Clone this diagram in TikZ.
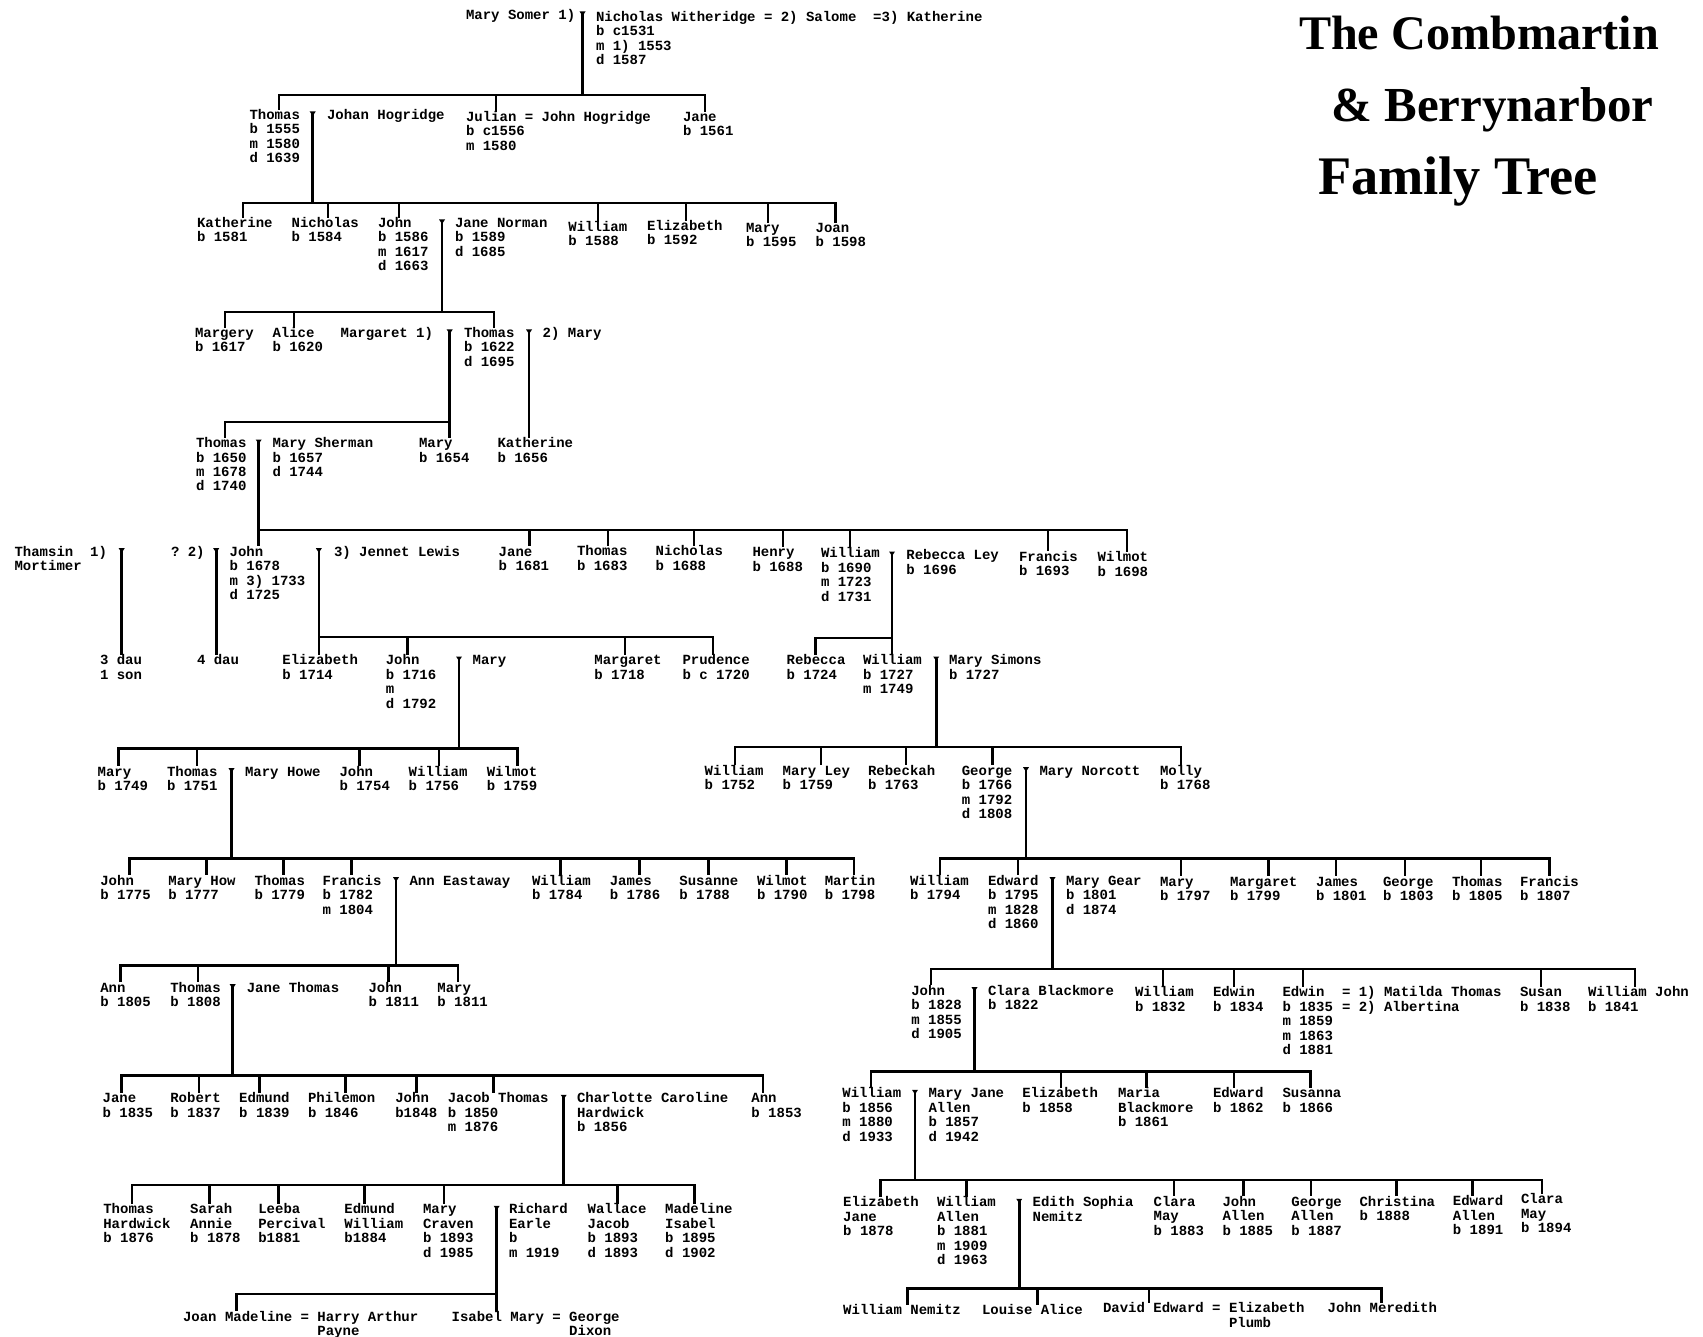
\documentclass[tikz,border=0pt]{standalone}
\usepackage{fontspec}
\usepackage{graphicx}
\setmonofont{Liberation Mono}
\newfontfamily\titlefont{Liberation Serif}
\newcommand\pfont{\ttfamily\bfseries\fontsize{14}{14.5}\selectfont}
\newcommand\lns[1]{\begin{tabular}[t]{@{}l@{}}#1\end{tabular}}
\tikzset{
  ln/.style={line width=2.6pt, line cap=rect},
  pers/.style={anchor=base west, inner sep=0pt, outer sep=0pt, font=\pfont},
  ttl/.style={anchor=base west, inner sep=0pt, outer sep=0pt, font=\titlefont\bfseries\fontsize{40}{40}\selectfont},
}
\newcommand\pp[4]{\node[pers] (#1) at (#2,#3+4.5) {\lns{#4}};}
\newcommand\mk[3]{\coordinate (#1) at (#2,#3); \fill (#2-3,#3-3.5) -- (#2+3,#3-3.5) -- (#2,#3+1) -- cycle;}
\newcommand\fbar[4]{\coordinate (#1L) at (#2,#4); \coordinate (#1R) at (#3,#4); \draw[ln] (#1L) -- (#1R);}
\newcommand\down[2]{\draw[ln] (#1) -- (#1 |- #2);}
\newcommand\tochild[2]{\draw[ln,shorten >=1pt] (#1) -- (#1 |- #2.north);}
\newcommand\drp[3]{\coordinate (d#1) at (#2,#3); \draw[ln,shorten >=1pt] (d#1) -- (d#1 |- #1.north);}
\begin{document}
\begin{tikzpicture}[x=1pt,y=-1pt]
\useasboundingbox (0,0) rectangle (1703,1337);
\fill[white] (0,0) rectangle (1703,1337);
% ---------- title
\node[ttl] (t1) at (1299,50) {\resizebox{360pt}{!}{The Combmartin}};
\node[ttl] (t2) at (1331.5,122) {\resizebox{322pt}{!}{\& Berrynarbor}};
\node[ttl] (t3) at (1318,195) {\resizebox{280pt}{!}{Family Tree}};
% ---------- gen 1
\pp{marySomer}{466}{15}{Mary Somer 1)}
\pp{nicholas1}{596}{16.7}{Nicholas Witheridge = 2) Salome~ =3) Katherine\\b c1531\\m 1) 1553\\d 1587}
% ---------- gen 2
\pp{thomas2}{249.5}{115}{Thomas\\b 1555\\m 1580\\d 1639}
\pp{johan}{327}{115}{Johan Hogridge}
\pp{julian}{466}{117}{Julian = John Hogridge\\b c1556\\m 1580}
\pp{jane2}{683}{117}{Jane\\b 1561}
% ---------- gen 3
\pp{katherine3}{197}{223}{Katherine\\b 1581}
\pp{nicholas3}{291.6}{223}{Nicholas\\b 1584}
\pp{john3}{378}{223}{John\\b 1586\\m 1617\\d 1663}
\pp{janeNorman}{455}{223}{Jane Norman\\b 1589\\d 1685}
\pp{william3}{568.4}{227}{William\\b 1588}
\pp{elizabeth3}{647}{226}{Elizabeth\\b 1592}
\pp{mary3}{746}{228}{Mary\\b 1595}
\pp{joan3}{815.6}{228}{Joan\\b 1598}
% ---------- gen 4
\pp{margery}{195}{333}{Margery\\b 1617}
\pp{alice}{272.5}{333}{Alice\\b 1620}
\pp{margaret4}{340.6}{333}{Margaret 1)}
\pp{thomas4}{464}{333}{Thomas\\b 1622\\d 1695}
\pp{mary4}{542.7}{333}{2) Mary}
% ---------- gen 5
\pp{thomas5}{196}{443}{Thomas\\b 1650\\m 1678\\d 1740}
\pp{marySherman}{272.5}{443}{Mary Sherman\\b 1657\\d 1744}
\pp{mary5}{419}{443}{Mary\\b 1654}
\pp{katherine5}{497.5}{443}{Katherine\\b 1656}
% ---------- gen 6
\pp{thamsin}{14.5}{551.7}{Thamsin~~1)\\Mortimer}
\pp{q2}{171}{551.7}{? 2)}
\pp{john6}{229.6}{551.7}{John\\b 1678\\m 3) 1733\\d 1725}
\pp{jennet}{334}{551.7}{3) Jennet Lewis}
\pp{jane6}{498.7}{551.7}{Jane\\b 1681}
\pp{thomas6}{577}{551}{Thomas\\b 1683}
\pp{nicholas6}{655.7}{551}{Nicholas\\b 1688}
\pp{henry6}{752.5}{552}{Henry\\b 1688}
\pp{william6}{821}{553}{William\\b 1690\\m 1723\\d 1731}
\pp{rebeccaLey}{906.4}{555}{Rebecca Ley\\b 1696}
\pp{francis6}{1019}{556.7}{Francis\\b 1693}
\pp{wilmot6}{1097.7}{557}{Wilmot\\b 1698}
% ---------- gen 7
\pp{dau3}{100}{660}{3 dau\\1 son}
\pp{dau4}{197}{660}{4 dau}
\pp{elizabeth7}{282.4}{660}{Elizabeth\\b 1714}
\pp{john7}{385.8}{660}{John\\b 1716\\m\\d 1792}
\pp{mary7}{472.6}{660}{Mary}
\pp{margaret7}{594.4}{660}{Margaret\\b 1718}
\pp{prudence}{682.5}{660}{Prudence\\b c 1720}
\pp{rebecca7}{786.6}{660}{Rebecca\\b 1724}
\pp{william7}{863}{660}{William\\b 1727\\m 1749}
\pp{marySimons}{949}{660}{Mary Simons\\b 1727}
% ---------- gen 8
\pp{mary8}{97.6}{771.7}{Mary\\b 1749}
\pp{thomas8}{167}{771.7}{Thomas\\b 1751}
\pp{maryHowe}{245}{771.7}{Mary Howe}
\pp{john8}{339.5}{771.7}{John\\b 1754}
\pp{william8}{408.7}{771.7}{William\\b 1756}
\pp{wilmot8}{486.8}{771.7}{Wilmot\\b 1759}
\pp{william8b}{704.7}{770.7}{William\\b 1752}
\pp{maryLey}{782.7}{770.7}{Mary Ley\\b 1759}
\pp{rebeckah}{868}{770.7}{Rebeckah\\b 1763}
\pp{george8}{961.8}{770.7}{George\\b 1766\\m 1792\\d 1808}
\pp{maryNorcott}{1039.5}{770.7}{Mary Norcott}
\pp{molly}{1160}{770.7}{Molly\\b 1768}
% ---------- gen 9
\pp{john9}{100.3}{880.7}{John\\b 1775}
\pp{maryHow}{168.4}{880.7}{Mary How\\b 1777}
\pp{thomas9}{254.5}{880.7}{Thomas\\b 1779}
\pp{francis9}{322.6}{880.7}{Francis\\b 1782\\m 1804}
\pp{annEastaway}{409.5}{880.7}{Ann Eastaway}
\pp{william9}{532}{880.7}{William\\b 1784}
\pp{james9}{609.8}{880.7}{James\\b 1786}
\pp{susanne}{679.4}{880.7}{Susanne\\b 1788}
\pp{wilmot9}{757}{880.7}{Wilmot\\b 1790}
\pp{martin}{824.8}{880.7}{Martin\\b 1798}
\pp{william9b}{910}{880.7}{William\\b 1794}
\pp{edward9}{988}{880.7}{Edward\\b 1795\\m 1828\\d 1860}
\pp{maryGear}{1066}{880.7}{Mary Gear\\b 1801\\d 1874}
\pp{mary9b}{1160}{881.5}{Mary\\b 1797}
\pp{margaret9}{1230}{881.5}{Margaret\\b 1799}
\pp{james9b}{1316}{881.5}{James\\b 1801}
\pp{george9}{1383}{881.5}{George\\b 1803}
\pp{thomas9b}{1452}{881.5}{Thomas\\b 1805}
\pp{francis9b}{1520}{881.5}{Francis\\b 1807}
% ---------- gen 10
\pp{ann10}{100.3}{987.7}{Ann\\b 1805}
\pp{thomas10}{170.3}{987.7}{Thomas\\b 1808}
\pp{janeThomas}{246.8}{987.7}{Jane Thomas}
\pp{john10}{368.5}{987.7}{John\\b 1811}
\pp{mary10}{437.4}{987.7}{Mary\\b 1811}
\pp{john10b}{911.3}{990.7}{John\\b 1828\\m 1855\\d 1905}
\pp{clara}{988}{990.7}{Clara Blackmore\\b 1822}
\pp{william10b}{1135}{992}{William\\b 1832}
\pp{edwin10a}{1213}{992}{Edwin\\b 1834}
\pp{edwin10b}{1282.5}{992}{Edwin\\b 1835\\m 1859\\m 1863\\d 1881}
\pp{matilda}{1342}{992}{= 1) Matilda Thomas\\= 2) Albertina}
\pp{susan}{1520}{992}{Susan\\b 1838}
\pp{williamJohn}{1588}{992}{William John\\b 1841}
% ---------- gen 11
\pp{jane11}{102.6}{1098.3}{Jane\\b 1835}
\pp{robert}{170.3}{1098.3}{Robert\\b 1837}
\pp{edmund11}{239.2}{1098.3}{Edmund\\b 1839}
\pp{philemon}{308}{1098.3}{Philemon\\b 1846}
\pp{john11}{395.3}{1098.3}{John\\b1848}
\pp{jacob}{447.8}{1098.3}{Jacob Thomas\\b 1850\\m 1876}
\pp{charlotte}{577}{1098.3}{Charlotte Caroline\\Hardwick\\b 1856}
\pp{ann11}{751.4}{1098.3}{Ann\\b 1853}
\pp{william11b}{842.4}{1093.3}{William\\b 1856\\m 1880\\d 1933}
\pp{maryJane}{928.5}{1093.3}{Mary Jane\\Allen\\b 1857\\d 1942}
\pp{elizabeth11}{1022.3}{1093.3}{Elizabeth\\b 1858}
\pp{maria}{1118}{1093.3}{Maria\\Blackmore\\b 1861}
\pp{edward11}{1213}{1093.3}{Edward\\b 1862}
\pp{susanna}{1282.5}{1093.3}{Susanna\\b 1866}
% ---------- gen 12
\pp{thomas12}{103.3}{1209.3}{Thomas\\Hardwick\\b 1876}
\pp{sarah}{190.2}{1209.3}{Sarah\\Annie\\b 1878}
\pp{leeba}{258.3}{1209.3}{Leeba\\Percival\\b1881}
\pp{edmund12}{344.4}{1209.3}{Edmund\\William\\b1884}
\pp{maryCraven}{423}{1209.3}{Mary\\Craven\\b 1893\\d 1985}
\pp{richard}{509}{1209.3}{Richard\\Earle\\b\\m 1919}
\pp{wallace}{587.6}{1209.3}{Wallace\\Jacob\\b 1893\\d 1893}
\pp{madeline}{665.2}{1209.3}{Madeline\\Isabel\\b 1895\\d 1902}
\pp{elizabeth12}{843.2}{1202.3}{Elizabeth\\Jane\\b 1878}
\pp{william12}{937}{1202.3}{William\\Allen\\b 1881\\m 1909\\d 1963}
\pp{edith}{1032.6}{1202.3}{Edith Sophia\\Nemitz}
\pp{claraMay}{1153.6}{1201.7}{Clara\\May\\b 1883}
\pp{john12}{1222.5}{1201.7}{John\\Allen\\b 1885}
\pp{george12}{1291.4}{1201.7}{George\\Allen\\b 1887}
\pp{christina}{1359.5}{1201.7}{Christina\\b 1888}
\pp{edward12}{1452.9}{1201}{Edward\\Allen\\b 1891}
\pp{clara12}{1521}{1199}{Clara\\May\\b 1894}
% ---------- gen 13
\pp{joanMad}{183}{1316.7}{Joan Madeline = Harry Arthur\\\hphantom{Joan Madeline = }Payne}
\pp{isabel}{451.6}{1316.7}{Isabel Mary = George\\\hphantom{Isabel Mary = }Dixon}
\pp{williamNemitz}{843.2}{1310}{William Nemitz}
\pp{louise}{982}{1310}{Louise Alice}
\pp{david}{1103}{1308}{David Edward = Elizabeth\\\hphantom{David Edward = }Plumb}
\pp{johnMeredith}{1327.7}{1308}{John Meredith}
% ================= connectors
% F1
\mk{m1}{582.5}{15} \fbar{b1}{279}{705}{95} \down{m1}{b1L}
\drp{thomas2}{279}{95} \drp{julian}{496}{95} \drp{jane2}{705}{95}
% F2
\mk{m2}{312.7}{115} \fbar{b2}{243}{835.5}{203} \down{m2}{b2L}
\drp{katherine3}{243}{203} \drp{nicholas3}{328}{203} \drp{john3}{399}{203}
\drp{william3}{598}{203} \drp{elizabeth3}{686}{203} \drp{mary3}{768}{203} \drp{joan3}{835.5}{203}
% F3
\mk{m3}{442}{223} \fbar{b3}{225}{494}{312} \down{m3}{b3L}
\drp{margery}{225}{312} \drp{alice}{294}{312} \drp{thomas4}{494}{312}
% F4
\mk{m4}{449.7}{333} \fbar{b4}{225}{449.7}{422} \tochild{m4}{mary5}
\drp{thomas5}{225}{422}
\mk{m4b}{529}{333} \tochild{m4b}{katherine5}
% F5
\mk{m5}{258.7}{443} \fbar{b5}{258.7}{1127}{530} \tochild{m5}{john6}
\drp{jane6}{529.3}{530} \drp{thomas6}{607.8}{530} \drp{nicholas6}{694}{530}
\drp{henry6}{783}{530} \drp{william6}{850}{530} \drp{francis6}{1048}{530} \drp{wilmot6}{1127}{530}
% F6
\mk{m6a}{121.7}{551.7} \tochild{m6a}{dau3}
\mk{m6b}{216.2}{551.7} \tochild{m6b}{dau4}
\mk{m6c}{318.8}{551.7} \fbar{b6c}{318.8}{713}{637} \tochild{m6c}{elizabeth7}
\drp{john7}{407.6}{637} \drp{margaret7}{625}{637} \drp{prudence}{713}{637}
\mk{m6d}{892}{555} \fbar{b6d}{815.6}{892}{638} \tochild{m6d}{william7}
\drp{rebecca7}{815.6}{638}
% F7
\mk{m7a}{459}{660} \fbar{b7a}{118.6}{517.4}{748.3} \down{m7a}{b7aL}
\drp{mary8}{118.6}{748.3} \drp{thomas8}{197}{748.3} \drp{john8}{359.7}{748.3}
\drp{william8}{439}{748.3} \drp{wilmot8}{517.4}{748.3}
\mk{m7b}{936.2}{660} \fbar{b7b}{735}{1181}{747} \down{m7b}{b7bL}
\drp{william8b}{735}{747} \drp{maryLey}{821}{747} \drp{rebeckah}{906}{747}
\drp{george8}{992.5}{747} \drp{molly}{1181}{747}
% F8
\mk{m8a}{231.5}{771.7} \fbar{b8a}{129.4}{854}{858.3} \down{m8a}{b8aL}
\drp{john9}{129.4}{858.3} \drp{maryHow}{206.7}{858.3} \drp{thomas9}{283.2}{858.3}
\drp{francis9}{351.3}{858.3} \drp{william9}{560.7}{858.3} \drp{james9}{639.6}{858.3}
\drp{susanne}{708.5}{858.3} \drp{wilmot9}{786.6}{858.3} \drp{martin}{854}{858.3}
\mk{m8b}{1026}{770.7} \fbar{b8b}{940}{1549.7}{858.3} \down{m8b}{b8bL}
\drp{william9b}{940}{858.3} \drp{edward9}{1018}{858.3} \drp{mary9b}{1181}{858.3}
\drp{margaret9}{1268.4}{858.3} \drp{james9b}{1336}{858.3} \drp{george9}{1405}{858.3}
\drp{thomas9b}{1480.8}{858.3} \drp{francis9b}{1549.7}{858.3}
% F9
\mk{m9a}{396}{880.7} \fbar{b9a}{120.5}{458}{965.7} \down{m9a}{b9aL}
\drp{ann10}{120.5}{965.7} \drp{thomas10}{198}{965.7} \drp{john10}{388.4}{965.7} \drp{mary10}{458}{965.7}
\mk{m9b}{1052.5}{880.7} \fbar{b9b}{931}{1635}{969} \down{m9b}{b9bL}
\drp{john10b}{931}{969} \drp{william10b}{1163}{969} \drp{edwin10a}{1234}{969}
\drp{edwin10b}{1302.8}{969} \drp{susan}{1541}{969} \drp{williamJohn}{1635}{969}
% F10
\mk{m10a}{232.7}{987.7} \fbar{b10a}{121.7}{762.8}{1075.7} \down{m10a}{b10aL}
\drp{jane11}{121.7}{1075.7} \drp{robert}{199}{1075.7} \drp{edmund11}{259.5}{1075.7}
\drp{philemon}{345.6}{1075.7} \drp{john11}{416.4}{1075.7} \drp{jacob}{493.7}{1075.7} \drp{ann11}{762.8}{1075.7}
\mk{m10b}{974.5}{990.7} \fbar{b10b}{870.8}{1310.5}{1071.7} \down{m10b}{b10bL}
\drp{william11b}{870.8}{1071.7} \drp{elizabeth11}{1061}{1071.7} \drp{maria}{1146.7}{1071.7}
\drp{edward11}{1234}{1071.7} \drp{susanna}{1310.5}{1071.7}
% F11
\mk{m11a}{563.7}{1098.3} \fbar{b11a}{132}{694.7}{1185} \down{m11a}{b11aL}
\drp{thomas12}{132}{1185} \drp{sarah}{209.7}{1185} \drp{leeba}{278.6}{1185}
\drp{edmund12}{364.7}{1185} \drp{maryCraven}{444}{1185} \drp{wallace}{617.4}{1185} \drp{madeline}{694.7}{1185}
\mk{m11b}{915}{1093.3} \fbar{b11b}{880.7}{1542}{1180} \down{m11b}{b11bL}
\drp{elizabeth12}{880.7}{1180} \drp{william12}{966.4}{1180} \drp{claraMay}{1173.9}{1180}
\drp{john12}{1243.5}{1180} \drp{george12}{1311}{1180} \drp{christina}{1396.6}{1180}
\drp{edward12}{1472.4}{1180} \drp{clara12}{1542}{1180}
% F12
\mk{m12a}{496.7}{1209.3} \fbar{b12a}{236.5}{496.7}{1294} \tochild{m12a}{isabel}
\drp{joanMad}{236.5}{1294}
\mk{m12b}{1019.2}{1202.3} \fbar{b12b}{907.5}{1381.3}{1288.3} \down{m12b}{b12bL}
\drp{williamNemitz}{907.5}{1288.3} \drp{louise}{1037.6}{1288.3} \drp{david}{1149}{1288.3}
\drp{johnMeredith}{1381.3}{1288.3}
\end{tikzpicture}
\end{document}
